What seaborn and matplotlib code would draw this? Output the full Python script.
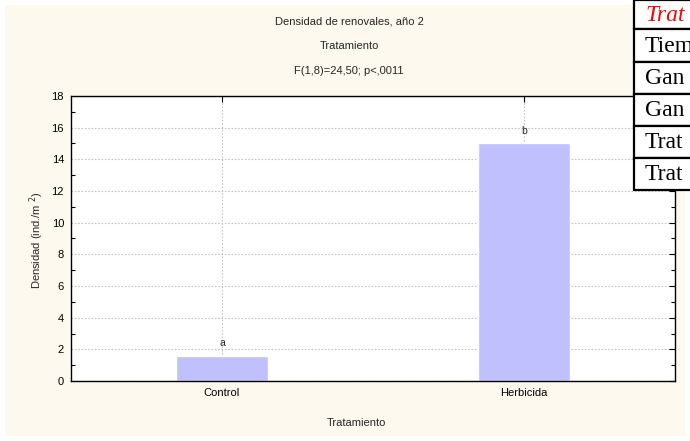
import pandas as pd
import seaborn as sns
import matplotlib.pyplot as plt
from matplotlib.patches import Rectangle
from matplotlib.ticker import MultipleLocator

# Data
tratamientos = ["Control", "Herbicida"]
densidad = [1.6, 15.0]
letras = ["a", "b"]
filas_tabla = ["Trat", "Tiem", "Gan", "Gan", "Trat", "Trat"]

df = pd.DataFrame({"Tratamiento": tratamientos, "Densidad": densidad})

sns.set_style("white")
plt.rcParams["font.family"] = ["Liberation Sans", "DejaVu Sans"]

fig = plt.figure(figsize=(6.9, 4.41), dpi=100, facecolor="white")
# cream panel behind everything
fig.patches.append(Rectangle((5 / 690, 5 / 441), 680 / 690, 431 / 441,
                             transform=fig.transFigure, facecolor="#fdf9ee",
                             edgecolor="none", zorder=-1))

ax = fig.add_axes([71 / 690, 1 - 381 / 441, 604 / 690, 285 / 441])
ax.set_zorder(1)
ax.set_facecolor("white")
sns.barplot(data=df, x="Tratamiento", y="Densidad", color="#c0c0ff",
            saturation=1, width=0.305, ax=ax, zorder=2)

ax.set_xlim(-0.5, 1.5)
ax.set_ylim(0, 18)
ax.yaxis.set_major_locator(MultipleLocator(2))
ax.yaxis.set_minor_locator(MultipleLocator(1))
ax.tick_params(axis="both", which="both", direction="in", top=True, right=True,
               labelsize=8, pad=5, colors="black")
ax.tick_params(axis="y", which="major", length=4, width=0.8)
ax.tick_params(axis="y", which="minor", length=3, width=0.8, left=True, right=True)
ax.tick_params(axis="x", length=4, width=0.8)
ax.grid(True, which="major", linestyle=(0, (1.5, 1.5)), color="#c4c4c4", linewidth=0.8)
ax.set_axisbelow(True)
for sp in ax.spines.values():
    sp.set_color("black")
    sp.set_linewidth(1.0)

for i, (v, l) in enumerate(zip(densidad, letras)):
    ax.text(i, v + 0.5, l, ha="center", va="bottom", fontsize=7.5)

ax.set_xlabel("")
ax.set_ylabel("")
fig.text(37 / 690, 1 - 240 / 441, "Densidad (ind./m $^2$)", rotation=90,
         ha="center", va="center", fontsize=8)
fig.text(356 / 690, 1 - 423 / 441, "Tratamiento", ha="center", va="center", fontsize=8)

titulos = ["Densidad de renovales, año 2", "Tratamiento", "F(1,8)=24,50; p<,0011"]
for k, t in enumerate(titulos):
    fig.text(349 / 690, 1 - (21 + 25 * k) / 441, t, ha="center", va="center", fontsize=8)

# overlapping table fragment at the top right (cut off by the image edge, as in the source)
bordes = [0, 29, 62, 94, 126, 158, 190]
for k, nombre in enumerate(filas_tabla):
    y0, y1 = bordes[k], bordes[k + 1]
    fig.patches.append(Rectangle((634 / 690, 1 - y1 / 441), 70 / 690, (y1 - y0) / 441,
                                 transform=fig.transFigure, facecolor="white",
                                 edgecolor="black", linewidth=1.6, zorder=5))
    fig.text(645 / 690, 1 - ((y0 + y1) / 2 + 1) / 441, nombre,
             color="red" if k == 0 else "black", style="italic" if k == 0 else "normal",
             family=["Liberation Serif"], fontsize=17, va="center", ha="left", zorder=6)

fig.savefig("out.png", dpi=100, facecolor=fig.get_facecolor())
